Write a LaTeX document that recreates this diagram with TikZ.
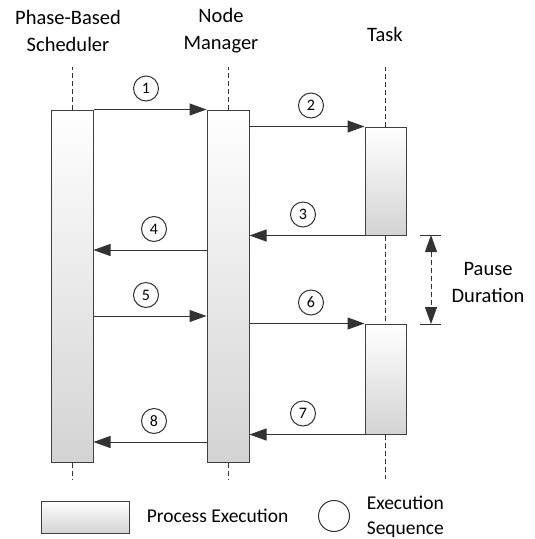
\documentclass[tikz,border=0pt]{standalone}
\usepackage{fontspec}
\setmainfont{Carlito}
\usetikzlibrary{arrows.meta}
\begin{document}
\begin{tikzpicture}[x=1pt, y=-1pt,
    line width=1pt, draw=black!80,
    bar/.style={draw=black!75, top color=white, bottom color=black!17,
      minimum width=42pt, inner sep=0pt},
    msg/.style={draw=black!80, -{Triangle[length=17pt, width=12pt]}},
    seq/.style={draw=black!80, circle, minimum size=25pt, inner sep=0pt,
      font=\fontsize{16}{16}\selectfont},
    life/.style={draw=black!80, dash pattern=on 5pt off 3pt},
    head/.style={align=center, font=\fontsize{20.5}{27}\selectfont}]
  \useasboundingbox (0,0) rectangle (535,539);
  \fill[white] (0,0) rectangle (535,539);

  % headers
  \node[head] (hsched) at (68,31) {Phase-Based\\Scheduler};
  \node[head] (hmgr) at (221,31) {Node\\Manager};
  \node[head] (htask) at (385,34) {Task};

  % process bars
  \node[bar, minimum height=352pt] (sched) at (72,286) {};
  \node[bar, minimum height=352pt] (mgr) at (228,286) {};
  \node[bar, minimum height=108pt, minimum width=41pt] (task1) at (385.5,181) {};
  \node[bar, minimum height=110pt, minimum width=41pt] (task2) at (385.5,379) {};

  % life lines
  \draw[life] (sched.north) -- (sched.north |- 0,67);
  \draw[life] (sched.south) -- (sched.south |- 0,479);
  \draw[life] (mgr.north) -- (mgr.north |- 0,67);
  \draw[life] (mgr.south) -- (mgr.south |- 0,479);
  \draw[life] (task1.north) -- (task1.north |- 0,67);
  \draw[life] (task1.south) -- (task2.north);
  \draw[life] (task2.south) -- (task2.south |- 0,479);

  % messages
  \draw[msg] (sched.north east) to node[seq, above=8pt, xshift=-4pt] {1} (mgr.north west);
  \draw[msg] (mgr.east |- task1.north) to node[seq, above=8pt, xshift=4pt] {2} (task1.north west);
  \draw[msg] (task1.south west) to node[seq, above=8pt, xshift=-4pt] {3} (mgr.east |- task1.south);
  \draw[msg] (mgr.west |- 0,250) to node[seq, above=8pt, xshift=4pt] {4} (sched.east |- 0,250);
  \draw[msg] (sched.east |- 0,316) to node[seq, above=8pt, xshift=-4pt] {5} (mgr.west |- 0,316);
  \draw[msg] (mgr.east |- task2.north) to node[seq, above=8pt, xshift=4pt] {6} (task2.north west);
  \draw[msg] (task2.south west) to node[seq, above=8pt, xshift=-4pt] {7} (mgr.east |- task2.south);
  \draw[msg] (mgr.west |- 0,442) to node[seq, above=8pt, xshift=4pt] {8} (sched.east |- 0,442);

  % pause duration
  \coordinate (p1) at (431,235);
  \coordinate (p2) at (431,324);
  \draw (420,235) -- (441,235);
  \draw (420,324) -- (441,324);
  \draw[life, {Triangle[length=17pt, width=12pt]}-{Triangle[length=17pt, width=12pt]}] (p1) -- (p2);
  \node[head] (pause) at (488,282) {Pause\\Duration};

  % legend
  \node[bar, minimum width=88pt, minimum height=32pt] (legbar) at (85,517) {};
  \node[anchor=west, font=\fontsize{19.5}{19}\selectfont] (legbartxt) at (143,516) {Process Execution};
  \node[draw=black!80, circle, minimum size=31pt, inner sep=0pt] (legseq) at (334,516) {};
  \node[anchor=west, align=left, font=\fontsize{19.5}{25}\selectfont] (legseqtxt) at (363,517) {Execution\\Sequence};
\end{tikzpicture}
\end{document}
